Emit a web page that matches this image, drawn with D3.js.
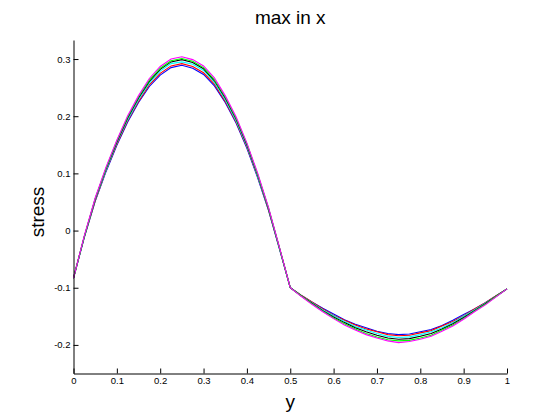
<!DOCTYPE html>
<html><head><meta charset="utf-8">
<script src="https://cdn.jsdelivr.net/npm/d3@7"></script>
<style>
html,body{margin:0;padding:0;background:#fff;}
svg{display:block;font-family:"Liberation Sans",Arial,Helvetica,sans-serif;}
</style></head>
<body><svg id="chart" width="560" height="419"></svg>
<script>
const xs = [0,0.025,0.05,0.075,0.1,0.125,0.15,0.175,0.2,0.225,0.25,0.275,0.3,0.325,0.35,0.375,0.4,0.425,0.45,0.475,0.5,
            0.525,0.55,0.575,0.6,0.625,0.65,0.675,0.7,0.725,0.75,0.775,0.8,0.825,0.85,0.875,0.9,0.925,0.95,0.975,1.0];

const blueVals = [-0.083,-0.012,0.051,0.103,0.149,0.190,0.224,0.252,0.272,0.285,0.289,0.284,0.273,0.253,0.224,0.188,0.144,0.092,0.035,-0.032,-0.100,
                  -0.113,-0.125,-0.136,-0.146,-0.156,-0.164,-0.170,-0.176,-0.180,-0.182,-0.181,-0.177,-0.173,-0.166,-0.157,-0.147,-0.137,-0.126,-0.114,-0.102];
const redVals = [-0.083,-0.011,0.052,0.105,0.151,0.192,0.226,0.255,0.275,0.288,0.292,0.287,0.276,0.256,0.226,0.190,0.146,0.094,0.036,-0.031,-0.100,
                 -0.113,-0.125,-0.137,-0.148,-0.157,-0.165,-0.172,-0.177,-0.182,-0.184,-0.183,-0.179,-0.175,-0.167,-0.159,-0.149,-0.137,-0.126,-0.114,-0.102];
const cyanVals = [-0.083,-0.011,0.054,0.106,0.153,0.194,0.229,0.258,0.279,0.292,0.295,0.291,0.280,0.259,0.229,0.192,0.148,0.095,0.037,-0.031,-0.100,
                  -0.114,-0.126,-0.139,-0.149,-0.159,-0.168,-0.174,-0.180,-0.185,-0.187,-0.186,-0.182,-0.177,-0.170,-0.161,-0.150,-0.139,-0.127,-0.115,-0.102];
const blackVals = [-0.083,-0.010,0.055,0.108,0.155,0.197,0.232,0.261,0.282,0.295,0.299,0.294,0.283,0.262,0.232,0.195,0.150,0.097,0.038,-0.030,-0.100,
                   -0.114,-0.127,-0.140,-0.151,-0.161,-0.170,-0.177,-0.183,-0.188,-0.190,-0.189,-0.185,-0.180,-0.172,-0.163,-0.152,-0.140,-0.128,-0.115,-0.102];
const greenVals = [-0.083,-0.010,0.056,0.109,0.157,0.199,0.234,0.263,0.284,0.297,0.301,0.296,0.285,0.264,0.234,0.197,0.152,0.098,0.039,-0.030,-0.100,
                   -0.114,-0.128,-0.141,-0.153,-0.163,-0.172,-0.180,-0.186,-0.191,-0.193,-0.192,-0.188,-0.183,-0.174,-0.165,-0.154,-0.141,-0.129,-0.115,-0.102];
const magentaVals = [-0.083,-0.009,0.057,0.111,0.158,0.201,0.236,0.266,0.287,0.300,0.304,0.299,0.288,0.267,0.236,0.199,0.153,0.100,0.040,-0.029,-0.100,
                     -0.115,-0.129,-0.142,-0.154,-0.165,-0.174,-0.182,-0.188,-0.193,-0.196,-0.194,-0.190,-0.185,-0.176,-0.167,-0.155,-0.142,-0.130,-0.116,-0.102];

const seriesNames = ["blue","red","cyan","black","green","magenta"];
const seriesColors = ["#0000ff","#ff0000","#00ffff","#000000","#00ff00","#ff00ff"];
const seriesValues = [blueVals, redVals, cyanVals, blackVals, greenVals, magentaVals];

const xTicks = [0,0.1,0.2,0.3,0.4,0.5,0.6,0.7,0.8,0.9,1];
const xTickLabels = ["0","0.1","0.2","0.3","0.4","0.5","0.6","0.7","0.8","0.9","1"];
const yTicks = [-0.2,-0.1,0,0.1,0.2,0.3];
const yTickLabels = ["-0.2","-0.1","0","0.1","0.2","0.3"];

const titleText = "max in x", xLabelText = "y", yLabelText = "stress";

const svg = d3.select("#chart");
const mLeft = 73.5, mRight = 507, mTop = 40, mBottom = 373.5;
const x = d3.scaleLinear().domain([0,1]).range([mLeft,mRight]);
const y = d3.scaleLinear().domain([-0.25,0.3333]).range([mBottom,mTop]);

const line = d3.line().x(d => x(d[0])).y(d => y(d[1]));
const g = svg.append("g");
seriesValues.forEach((vals,i) => {
  g.append("path")
    .datum(xs.map((xv,j) => [xv, vals[j]]))
    .attr("d", line)
    .attr("fill","none")
    .attr("stroke", seriesColors[i])
    .attr("stroke-width", 1.1);
});

const xAxis = d3.axisBottom(x).tickValues(xTicks).tickFormat((d,i)=>xTickLabels[i]).tickSizeInner(-5).tickSizeOuter(0).tickPadding(4);
const yAxis = d3.axisLeft(y).tickValues(yTicks).tickFormat((d,i)=>yTickLabels[i]).tickSizeInner(-5).tickSizeOuter(0).tickPadding(3);

const gx = svg.append("g").attr("transform",`translate(0,${mBottom})`).call(xAxis);
const gy = svg.append("g").attr("transform",`translate(${mLeft},0)`).call(yAxis);
[gx,gy].forEach(a => {
  a.select(".domain").attr("stroke","#000").attr("stroke-width",1);
  a.selectAll(".tick line").attr("stroke","#000");
  a.selectAll(".tick text").attr("fill","#000").attr("font-size",9.5).attr("font-family","Liberation Sans, Arial, sans-serif");
});

svg.append("text").attr("x",(mLeft+mRight)/2).attr("y",24).attr("text-anchor","middle")
  .attr("font-size",19).text(titleText);
svg.append("text").attr("x",(mLeft+mRight)/2).attr("y",408).attr("text-anchor","middle")
  .attr("font-size",19).text(xLabelText);
svg.append("text").attr("transform",`translate(44,212) rotate(-90)`).attr("text-anchor","middle")
  .attr("font-size",19).text(yLabelText);
</script></body></html>
